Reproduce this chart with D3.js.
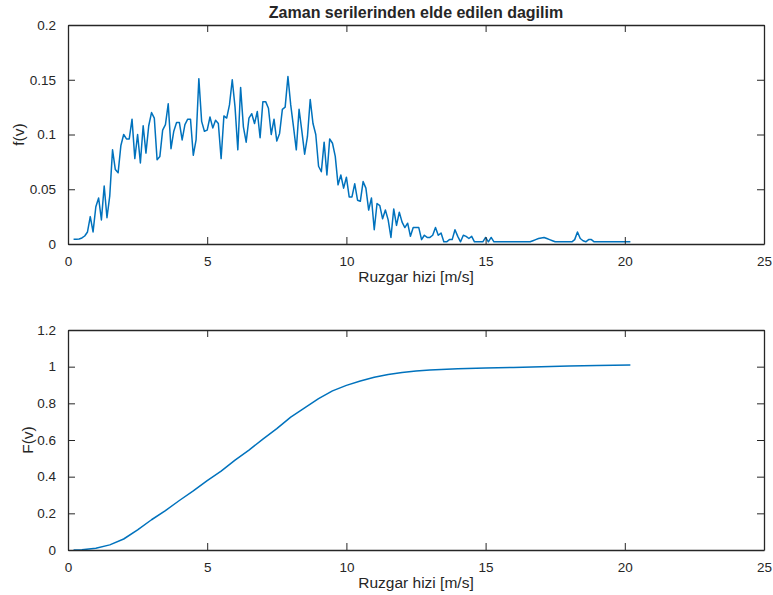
<!DOCTYPE html>
<html>
<head>
<meta charset="utf-8">
<script src="https://cdn.jsdelivr.net/npm/d3@7"></script>
<style>
  body { margin: 0; background: #fff; }
  text { font-family: "Liberation Sans", Arial, Helvetica, sans-serif; fill: #262626; }
</style>
</head>
<body>
<div id="chart"></div>
<script>
// wind speed grid of the histogram [m/s]
const speed = [
  0.2,0.3,0.4,0.5,0.6,0.7,0.8,0.9,1.0,1.1,
  1.2,1.3,1.4,1.5,1.6,1.7,1.8,1.9,2.0,2.1,
  2.2,2.3,2.4,2.5,2.6,2.7,2.8,2.9,3.0,3.1,
  3.2,3.3,3.4,3.5,3.6,3.7,3.8,3.9,4.0,4.1,
  4.2,4.3,4.4,4.5,4.6,4.7,4.8,4.9,5.0,5.1,
  5.2,5.3,5.4,5.5,5.6,5.7,5.8,5.9,6.0,6.1,
  6.2,6.3,6.4,6.5,6.6,6.7,6.8,6.9,7.0,7.1,
  7.2,7.3,7.4,7.5,7.6,7.7,7.8,7.9,8.0,8.1,
  8.2,8.3,8.4,8.5,8.6,8.7,8.8,8.9,9.0,9.1,
  9.2,9.3,9.4,9.5,9.6,9.7,9.8,9.9,10.0,10.1,
  10.2,10.3,10.4,10.5,10.6,10.7,10.8,10.9,11.0,11.1,
  11.2,11.3,11.4,11.5,11.6,11.7,11.8,11.9,12.0,12.1,
  12.2,12.3,12.4,12.5,12.6,12.7,12.8,12.9,13.0,13.1,
  13.2,13.3,13.4,13.5,13.6,13.7,13.8,13.9,14.0,14.1,
  14.2,14.3,14.4,14.5,14.6,14.7,14.8,14.9,15.0,15.1,
  15.2,15.3,15.4,15.5,15.6,15.7,15.8,15.9,16.0,16.1,
  16.2,16.3,16.4,16.5,16.6,16.7,16.8,16.9,17.0,17.1,
  17.2,17.3,17.4,17.5,17.6,17.7,17.8,17.9,18.0,18.1,
  18.2,18.3,18.4,18.5,18.6,18.7,18.8,18.9,19.0,19.1,
  19.2,19.3,19.4,19.5,19.6,19.7,19.8,19.9,20.0,20.1,
  20.2
];

// f(v)
const density = [
  0.0043,0.0043,0.0046,0.0055,0.0073,0.011,0.025,0.011,0.034,0.042,
  0.022,0.053,0.024,0.044,0.086,0.068,0.065,0.090,0.100,0.096,
  0.096,0.114,0.078,0.100,0.074,0.108,0.083,0.108,0.120,0.115,
  0.077,0.080,0.104,0.109,0.128,0.087,0.103,0.111,0.111,0.095,
  0.109,0.114,0.114,0.081,0.095,0.151,0.112,0.103,0.104,0.116,
  0.106,0.113,0.110,0.078,0.117,0.115,0.127,0.150,0.125,0.086,
  0.143,0.107,0.093,0.115,0.119,0.110,0.121,0.097,0.130,0.130,
  0.124,0.100,0.114,0.094,0.101,0.123,0.125,0.153,0.127,0.107,
  0.086,0.123,0.103,0.082,0.098,0.132,0.110,0.100,0.071,0.066,
  0.093,0.063,0.096,0.092,0.080,0.054,0.063,0.051,0.061,0.043,
  0.043,0.055,0.040,0.039,0.057,0.051,0.031,0.042,0.013,0.037,
  0.035,0.023,0.031,0.022,0.006,0.032,0.017,0.029,0.020,0.015,
  0.019,0.007,0.015,0.015,0.015,0.004,0.008,0.006,0.006,0.008,
  0.015,0.008,0.010,0.002,0.002,0.004,0.004,0.013,0.007,0.002,
  0.008,0.007,0.005,0.007,0.002,0.002,0.002,0.002,0.006,0.002,
  0.006,0.002,0.002,0.002,0.002,0.002,0.002,0.002,0.002,0.002,
  0.002,0.002,0.002,0.002,0.002,0.003,0.004,0.005,0.0055,0.006,
  0.005,0.004,0.003,0.002,0.002,0.002,0.002,0.002,0.002,0.002,
  0.004,0.011,0.005,0.003,0.002,0.004,0.004,0.002,0.002,0.002,
  0.002,0.002,0.002,0.002,0.002,0.002,0.002,0.002,0.002,0.002,
  0.002
];

// F(v)
const cdfSpeed = [0.2, 0.5, 1.0, 1.5, 2.0, 2.5, 3.0, 3.5, 4.0, 4.5, 5.0, 5.5, 6.0, 6.5,
  7.0, 7.5, 8.0, 8.5, 9.0, 9.5, 10.0, 10.5, 11.0, 11.5, 12.0, 12.5, 13.0, 14.0,
  15.0, 16.0, 17.0, 18.0, 19.0, 20.2];
const cdfValue = [0.0004, 0.002, 0.01, 0.028, 0.06, 0.11, 0.165, 0.215, 0.27, 0.322, 0.378, 0.43, 0.49, 0.545,
  0.605, 0.662, 0.725, 0.775, 0.826, 0.868, 0.898, 0.922, 0.942, 0.957, 0.968, 0.976, 0.982, 0.989,
  0.993, 0.996, 0.999, 1.003, 1.006, 1.009];

const xTicks = [0, 5, 10, 15, 20, 25];
const fTicks = [0, 0.05, 0.1, 0.15, 0.2];
const FTicks = [0, 0.2, 0.4, 0.6, 0.8, 1, 1.2];

const titleText = "Zaman serilerinden elde edilen dagilim";
const xLabel = "Ruzgar hizi [m/s]";

const W = 773, H = 595;
const axisColor = "#262626";
const lineColor = "#0072BD";
const tickLen = 7;

const svg = d3.select("#chart").append("svg")
  .attr("width", W)
  .attr("height", H);

function drawPanel(box, xs, ys, yDomain, yTicks, yLabel, labelX) {
  const x = d3.scaleLinear().domain([0, 25]).range([box.left, box.right]);
  const y = d3.scaleLinear().domain(yDomain).range([box.bottom, box.top]);
  const fmt = d => String(+d.toFixed(2));

  const g = svg.append("g");

  // data line first so the axes sit on top
  g.append("path")
    .datum(xs.map((v, i) => [v, ys[i]]))
    .attr("fill", "none")
    .attr("stroke", lineColor)
    .attr("stroke-width", 1.5)
    .attr("stroke-linejoin", "round")
    .attr("d", d3.line().x(d => x(d[0])).y(d => y(d[1])));

  // bottom / top
  const xb = g.append("g").attr("transform", `translate(0,${box.bottom})`)
    .call(d3.axisBottom(x).tickValues(xTicks).tickFormat(fmt).tickSizeInner(-tickLen).tickSizeOuter(0).tickPadding(tickLen + 5));
  const xt = g.append("g").attr("transform", `translate(0,${box.top})`)
    .call(d3.axisTop(x).tickValues(xTicks).tickFormat("").tickSizeInner(-tickLen).tickSizeOuter(0));
  // left / right
  const yl = g.append("g").attr("transform", `translate(${box.left},0)`)
    .call(d3.axisLeft(y).tickValues(yTicks).tickFormat(fmt).tickSizeInner(-tickLen).tickSizeOuter(0).tickPadding(tickLen + 5));
  const yr = g.append("g").attr("transform", `translate(${box.right},0)`)
    .call(d3.axisRight(y).tickValues(yTicks).tickFormat("").tickSizeInner(-tickLen).tickSizeOuter(0));

  [xb, xt, yl, yr].forEach(a => {
    a.select(".domain").attr("stroke", axisColor).attr("stroke-width", 1.3);
    a.selectAll(".tick line").attr("stroke", axisColor).attr("stroke-width", 1);
    a.selectAll(".tick text").style("font-size", "13.5px").attr("fill", axisColor);
  });

  g.append("text")
    .attr("x", (box.left + box.right) / 2)
    .attr("y", box.bottom + 38)
    .attr("text-anchor", "middle")
    .style("font-size", "15.5px")
    .text(xLabel);

  g.append("text")
    .attr("transform", `translate(${labelX},${(box.top + box.bottom) / 2}) rotate(-90)`)
    .attr("text-anchor", "middle")
    .style("font-size", "15.5px")
    .text(yLabel);
}

drawPanel({ left: 68, right: 764, top: 25, bottom: 244 }, speed, density, [0, 0.2], fTicks, "f(v)", 24);
drawPanel({ left: 68, right: 764, top: 330, bottom: 550 }, cdfSpeed, cdfValue, [0, 1.2], FTicks, "F(v)", 33);

svg.append("text")
  .attr("x", 416)
  .attr("y", 18)
  .attr("text-anchor", "middle")
  .style("font-size", "16px")
  .style("font-weight", "bold")
  .attr("fill", "#000")
  .text(titleText);
</script>
</body>
</html>
